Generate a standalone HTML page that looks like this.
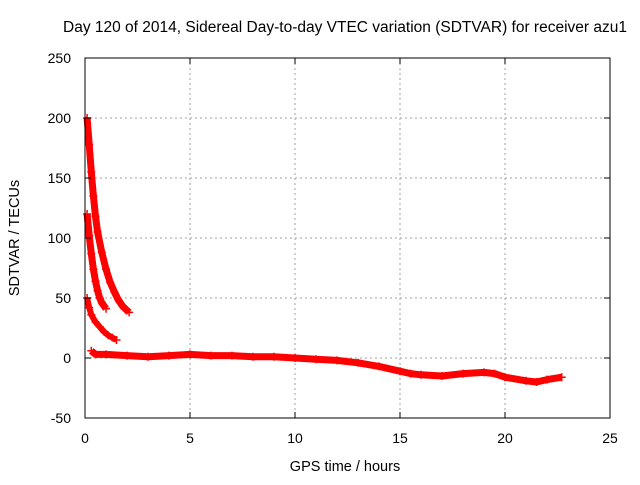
<!DOCTYPE html>
<html><head><meta charset="utf-8"><style>
body{margin:0;background:#fff}
svg text{font-family:"Liberation Sans",sans-serif;fill:#000}
</style></head><body>
<svg width="640" height="480" xmlns="http://www.w3.org/2000/svg">
<rect width="640" height="480" fill="#fff"/>
<g id="grid"></g>
<g id="series"></g>
<rect x="85" y="58" width="525" height="360" fill="none" stroke="#000" stroke-width="1"/>
<g id="ticks"></g>
<text x="345" y="32" font-size="15.5" text-anchor="middle">Day 120 of 2014, Sidereal Day-to-day VTEC variation (SDTVAR) for receiver azu1</text>
<text x="345" y="471" font-size="14.5" text-anchor="middle">GPS time / hours</text>
<text transform="translate(19,238) rotate(-90)" font-size="14.5" text-anchor="middle">SDTVAR / TECUs</text>
</svg>
<script>
const xTicks=[0,5,10,15,20,25];
const yTicks=[-50,0,50,100,150,200,250];
const curve1=[[0.1,200],[0.2,178],[0.3,155],[0.4,135],[0.5,118],[0.6,105],[0.8,88],[1.0,74],[1.2,63],[1.4,55],[1.6,48],[1.8,43],[2.1,38]];
const curve2=[[0.1,120],[0.2,102],[0.3,87],[0.4,74],[0.5,64],[0.6,56],[0.7,50],[0.8,46],[1.0,41]];
const curve3=[[0.1,50],[0.2,42],[0.3,36],[0.5,30],[0.7,26],[0.9,22],[1.1,19],[1.3,17],[1.5,15]];
const baseline=[[0.3,6],[0.5,3],[1,3],[2,2],[3,1],[4,2],[5,3],[6,2],[7,2],[8,1],[9,1],[10,0],[11,-1],[12,-2],[13,-4],[14,-7],[15,-11],[15.5,-13],[16,-14],[17,-15],[18,-13],[19,-12],[19.5,-13],[20,-16],[21,-19],[21.5,-20],[22,-18],[22.7,-16]];
const NS="http://www.w3.org/2000/svg";
const X=v=>85+v*21, Y=v=>358-v*1.2;
const grid=document.getElementById('grid'),ticks=document.getElementById('ticks'),ser=document.getElementById('series');
function mk(tag,attrs,parent){const e=document.createElementNS(NS,tag);for(const k in attrs)e.setAttribute(k,attrs[k]);parent.appendChild(e);return e;}
xTicks.forEach(t=>{
  if(t>0&&t<25){const g=mk('line',{x1:X(t),x2:X(t),y1:58,y2:418,stroke:'#a0a0a0','stroke-dasharray':'2,3'},grid);
  
  }
  const l=mk('text',{x:X(t),y:443,'font-size':14,'text-anchor':'middle'},ticks);l.textContent=t;
  
  
  mk('line',{x1:X(t),x2:X(t),y1:418,y2:412,stroke:'#000'},ticks);
  mk('line',{x1:X(t),x2:X(t),y1:58,y2:64,stroke:'#000'},ticks);
});
yTicks.forEach(t=>{
  if(t>-50&&t<250){const g=mk('line',{x1:85,x2:610,y1:Y(t),y2:Y(t),stroke:'#a0a0a0','stroke-dasharray':'2,3'},grid);
  
  }
  const l=mk('text',{x:71,y:Y(t)+5,'font-size':14,'text-anchor':'end'},ticks);l.textContent=t;
  
  
  mk('line',{x1:85,x2:91,y1:Y(t),y2:Y(t),stroke:'#000'},ticks);
  mk('line',{x1:610,x2:604,y1:Y(t),y2:Y(t),stroke:'#000'},ticks);
});
function draw(data,w,name){
  const p=mk('polyline',{points:data.map(d=>X(d[0])+','+Y(d[1])).join(' '),fill:'none',stroke:'#ff0000','stroke-width':w,'stroke-linejoin':'round'},ser);
  
  
  data.forEach(d=>{
    const m=mk('path',{d:`M${X(d[0])-4},${Y(d[1])}h8M${X(d[0])},${Y(d[1])-4}v8`,stroke:'#ff0000','stroke-width':1.5},ser);
    
    
  });
}
draw(curve1,7,'curve-1');
draw(curve2,7,'curve-2');
draw(curve3,6,'curve-3');
draw(baseline,7,'baseline-series');
</script>
</body></html>
